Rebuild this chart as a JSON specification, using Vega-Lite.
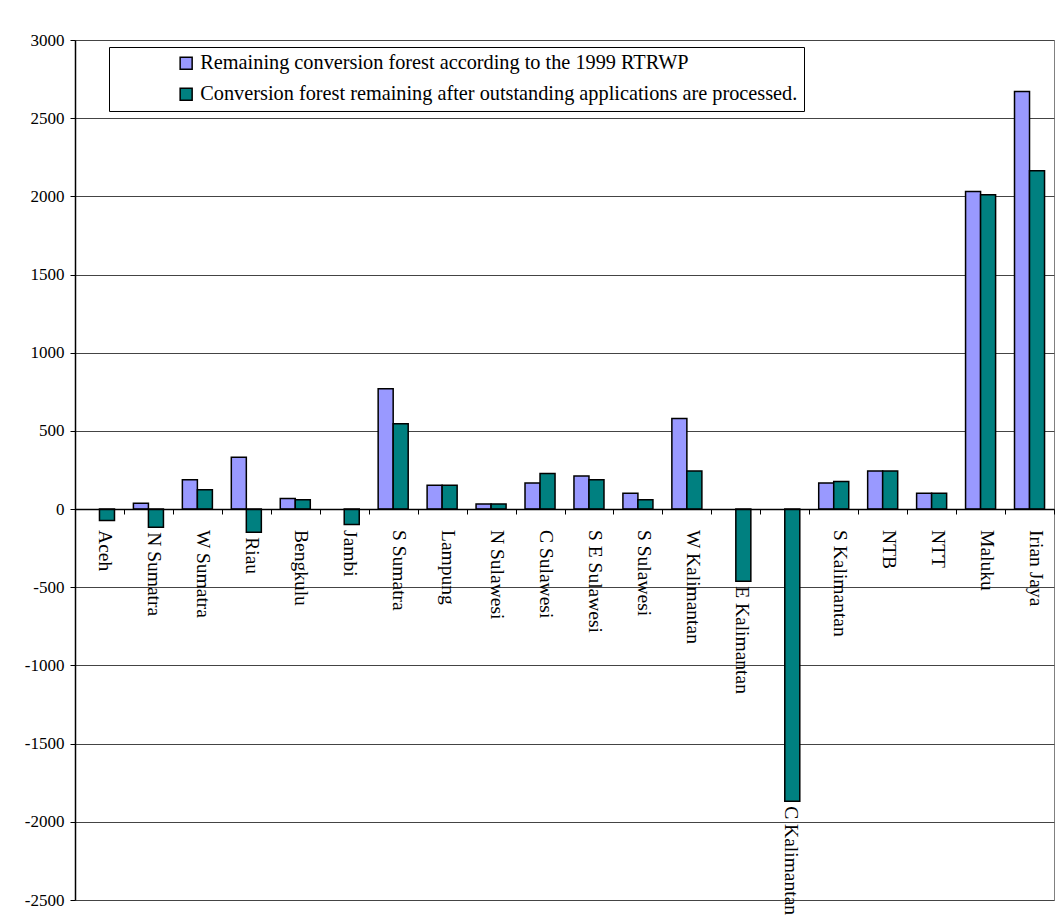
{
  "$schema": "https://vega.github.io/schema/vega-lite/v6.json",
  "width": 979,
  "height": 860,
  "autosize": {"type": "none"},
  "padding": {"left": 75, "top": 40, "right": 1, "bottom": 18},
  "background": "white",
  "config": {
    "view": {"stroke": "#808080", "strokeWidth": 1},
    "font": "Liberation Serif"
  },
  "data": {
    "values": [
      {"region": "Aceh", "series": "Conversion forest remaining after outstanding applications are processed.", "value": -73},
      {"region": "N Sumatra", "series": "Remaining conversion forest according to the 1999 RTRWP", "value": 37},
      {"region": "N Sumatra", "series": "Conversion forest remaining after outstanding applications are processed.", "value": -116},
      {"region": "W Sumatra", "series": "Remaining conversion forest according to the 1999 RTRWP", "value": 187},
      {"region": "W Sumatra", "series": "Conversion forest remaining after outstanding applications are processed.", "value": 123},
      {"region": "Riau", "series": "Remaining conversion forest according to the 1999 RTRWP", "value": 331},
      {"region": "Riau", "series": "Conversion forest remaining after outstanding applications are processed.", "value": -148},
      {"region": "Bengkulu", "series": "Remaining conversion forest according to the 1999 RTRWP", "value": 67},
      {"region": "Bengkulu", "series": "Conversion forest remaining after outstanding applications are processed.", "value": 59},
      {"region": "Jambi", "series": "Conversion forest remaining after outstanding applications are processed.", "value": -99},
      {"region": "S Sumatra", "series": "Remaining conversion forest according to the 1999 RTRWP", "value": 770},
      {"region": "S Sumatra", "series": "Conversion forest remaining after outstanding applications are processed.", "value": 545},
      {"region": "Lampung", "series": "Remaining conversion forest according to the 1999 RTRWP", "value": 152},
      {"region": "Lampung", "series": "Conversion forest remaining after outstanding applications are processed.", "value": 152},
      {"region": "N Sulawesi", "series": "Remaining conversion forest according to the 1999 RTRWP", "value": 33},
      {"region": "N Sulawesi", "series": "Conversion forest remaining after outstanding applications are processed.", "value": 33},
      {"region": "C Sulawesi", "series": "Remaining conversion forest according to the 1999 RTRWP", "value": 167},
      {"region": "C Sulawesi", "series": "Conversion forest remaining after outstanding applications are processed.", "value": 227},
      {"region": "S E Sulawesi", "series": "Remaining conversion forest according to the 1999 RTRWP", "value": 212},
      {"region": "S E Sulawesi", "series": "Conversion forest remaining after outstanding applications are processed.", "value": 187},
      {"region": "S Sulawesi", "series": "Remaining conversion forest according to the 1999 RTRWP", "value": 101},
      {"region": "S Sulawesi", "series": "Conversion forest remaining after outstanding applications are processed.", "value": 59},
      {"region": "W Kalimantan", "series": "Remaining conversion forest according to the 1999 RTRWP", "value": 580},
      {"region": "W Kalimantan", "series": "Conversion forest remaining after outstanding applications are processed.", "value": 244},
      {"region": "E Kalimantan", "series": "Conversion forest remaining after outstanding applications are processed.", "value": -461},
      {"region": "C Kalimantan", "series": "Conversion forest remaining after outstanding applications are processed.", "value": -1868},
      {"region": "S Kalimantan", "series": "Remaining conversion forest according to the 1999 RTRWP", "value": 167},
      {"region": "S Kalimantan", "series": "Conversion forest remaining after outstanding applications are processed.", "value": 176},
      {"region": "NTB", "series": "Remaining conversion forest according to the 1999 RTRWP", "value": 244},
      {"region": "NTB", "series": "Conversion forest remaining after outstanding applications are processed.", "value": 244},
      {"region": "NTT", "series": "Remaining conversion forest according to the 1999 RTRWP", "value": 101},
      {"region": "NTT", "series": "Conversion forest remaining after outstanding applications are processed.", "value": 101},
      {"region": "Maluku", "series": "Remaining conversion forest according to the 1999 RTRWP", "value": 2031},
      {"region": "Maluku", "series": "Conversion forest remaining after outstanding applications are processed.", "value": 2010},
      {"region": "Irian Jaya", "series": "Remaining conversion forest according to the 1999 RTRWP", "value": 2670},
      {"region": "Irian Jaya", "series": "Conversion forest remaining after outstanding applications are processed.", "value": 2164}
    ]
  },
  "layer": [
    {
      "mark": {"type": "bar", "stroke": "black", "strokeWidth": 1.5},
      "encoding": {
        "x": {
          "field": "region", "type": "nominal", "sort": null,
          "scale": {
            "domain": ["Aceh", "N Sumatra", "W Sumatra", "Riau", "Bengkulu", "Jambi", "S Sumatra", "Lampung", "N Sulawesi", "C Sulawesi", "S E Sulawesi", "S Sulawesi", "W Kalimantan", "E Kalimantan", "C Kalimantan", "S Kalimantan", "NTB", "NTT", "Maluku", "Irian Jaya"],
            "paddingInner": 0, "paddingOuter": 0
          },
          "axis": {
            "orient": "bottom", "offset": -391, "labels": false, "title": null,
            "domainColor": "black", "domainWidth": 1.5, "tickColor": "black", "tickWidth": 1, "tickSize": 5,
            "tickBand": "extent", "grid": false, "zindex": 1
          }
        },
        "xOffset": {
          "field": "series", "type": "nominal",
          "scale": {
            "domain": ["Remaining conversion forest according to the 1999 RTRWP", "Conversion forest remaining after outstanding applications are processed."],
            "paddingInner": 0, "paddingOuter": 0.63
          }
        },
        "y": {
          "field": "value", "type": "quantitative",
          "scale": {"domain": [-2500, 3000], "nice": false, "zero": false},
          "axis": {
            "values": [-2500, -2000, -1500, -1000, -500, 0, 500, 1000, 1500, 2000, 2500, 3000],
            "labelExpr": "'' + datum.value", "title": null,
            "domainColor": "black", "domainWidth": 1.5,
            "tickColor": "black", "tickSize": 5, "tickWidth": 1,
            "labelFont": "Liberation Serif", "labelFontSize": 17, "labelColor": "black", "labelPadding": 6,
            "grid": true, "gridColor": "#444444", "gridWidth": 1
          }
        },
        "fill": {
          "field": "series", "type": "nominal",
          "scale": {
            "domain": ["Remaining conversion forest according to the 1999 RTRWP", "Conversion forest remaining after outstanding applications are processed."],
            "range": ["#9999FF", "#008080"]
          },
          "legend": {
            "orient": "none", "legendX": 34, "legendY": 7, "title": null,
            "fillColor": "white", "strokeColor": "black",
            "padding": 6, "symbolOffset": 61, "rowPadding": 10,
            "symbolType": "square", "symbolSize": 144, "symbolStrokeColor": "black", "symbolStrokeWidth": 1.5,
            "labelFont": "Liberation Serif", "labelFontSize": 20.3, "labelColor": "black", "labelOffset": 4, "labelLimit": 800
          }
        }
      }
    },
    {
      "transform": [
        {"aggregate": [{"op": "min", "field": "value", "as": "minv"}], "groupby": ["region"]},
        {"calculate": "min(-134, datum.minv - 32)", "as": "labelY"}
      ],
      "mark": {"type": "text", "angle": 90, "align": "left", "baseline": "alphabetic", "font": "Liberation Serif", "fontSize": 19.5, "color": "black"},
      "encoding": {
        "x": {"field": "region", "type": "nominal", "sort": null},
        "y": {"field": "labelY", "type": "quantitative"},
        "text": {"field": "region"}
      }
    }
  ]
}
